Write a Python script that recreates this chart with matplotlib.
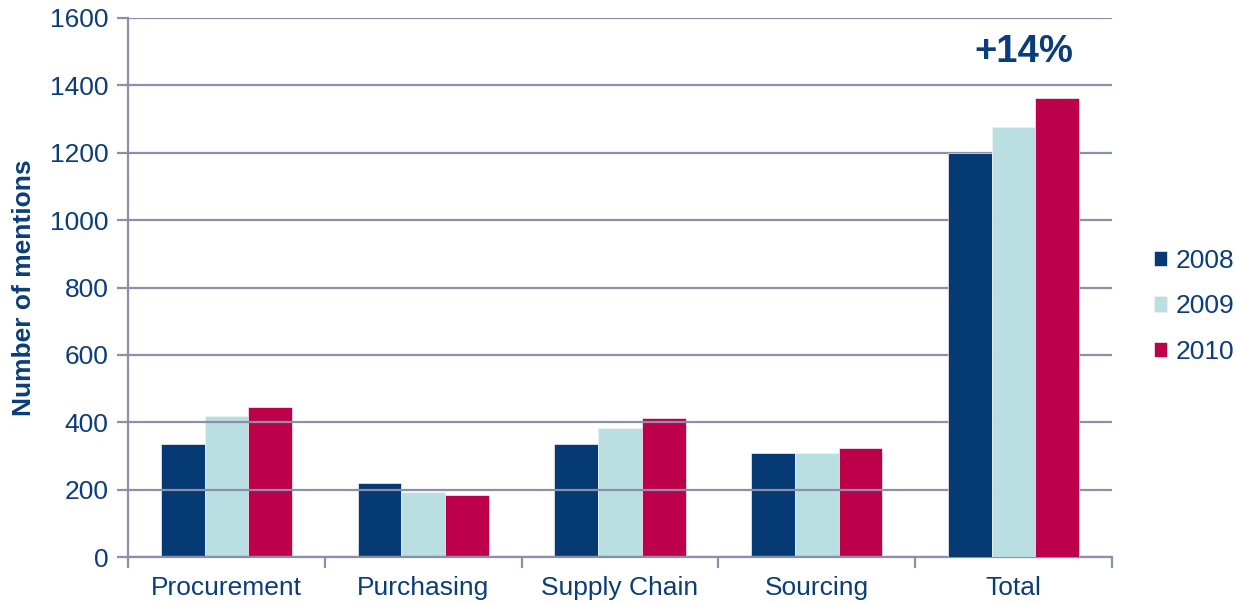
import numpy as np
import matplotlib.pyplot as plt
from matplotlib.ticker import FixedLocator

categorias = ['Procurement', 'Purchasing', 'Supply Chain', 'Sourcing', 'Total']
anos = ['2008', '2009', '2010']
v2008 = [335, 220, 335, 309, 1199]
v2009 = [418, 193, 383, 308, 1276]
v2010 = [445, 184, 412, 323, 1362]
variacao = '+14%'

cores = ['#053a75', '#b9dfe2', '#be004a']
cor_texto = '#0b3d7a'
cor_grelha = '#8a90a8'

plt.rcParams['font.family'] = ['Liberation Sans', 'DejaVu Sans']

fig = plt.figure(figsize=(12.35, 6.04), dpi=100)
ax = fig.add_axes([0.1036, 0.0778, 0.7968, 0.8924])

x = np.arange(len(categorias))
largura = 0.222
series = [v2008, v2009, v2010]

ax.set_axisbelow(False)
for i, (valores, ano, cor) in enumerate(zip(series, anos, cores)):
    barras = ax.bar(x + (i - 1) * largura, valores, largura, color=cor,
                    edgecolor='#f2f2f2', linewidth=0.5, label=ano, zorder=1)
    # as barras do total ficam por cima da grelha
    barras.patches[-1].set_zorder(3)

ax.set_xlim(-0.5, len(categorias) - 0.5)
ax.set_ylim(0, 1600)
ax.set_yticks(range(0, 1601, 200))
ax.yaxis.grid(True, color=cor_grelha, linewidth=1.6)

ax.set_xticks(x)
ax.set_xticklabels(categorias)
ax.xaxis.set_minor_locator(FixedLocator(np.arange(-0.5, len(categorias), 1)))
ax.tick_params(axis='x', which='major', length=0, pad=14, labelsize=19, labelcolor=cor_texto)
ax.tick_params(axis='x', which='minor', length=8, width=1.6, color=cor_grelha)
ax.tick_params(axis='y', length=8, width=1.6, color=cor_grelha, labelsize=19,
               labelcolor=cor_texto, pad=6)

for lado in ['top', 'right']:
    ax.spines[lado].set_visible(False)
for lado in ['left', 'bottom']:
    ax.spines[lado].set_color(cor_grelha)
    ax.spines[lado].set_linewidth(1.6)

ax.set_ylabel('Number of mentions', fontsize=19, fontweight='bold', color=cor_texto)
ax.yaxis.set_label_coords(-0.0935, 0.5)

ax.text(x[-1] + 0.05, 1500, variacao, ha='center', va='center', fontsize=27.5,
        fontweight='bold', color=cor_texto)

leg = ax.legend(loc='center left', bbox_to_anchor=(1.0, 0.465), frameon=False,
                fontsize=19, handlelength=0.5, handleheight=0.5, handletextpad=0.3,
                borderpad=0.2, borderaxespad=1.4, labelspacing=0.82,
                labelcolor=cor_texto)

fig.savefig('out.png', dpi=100)
